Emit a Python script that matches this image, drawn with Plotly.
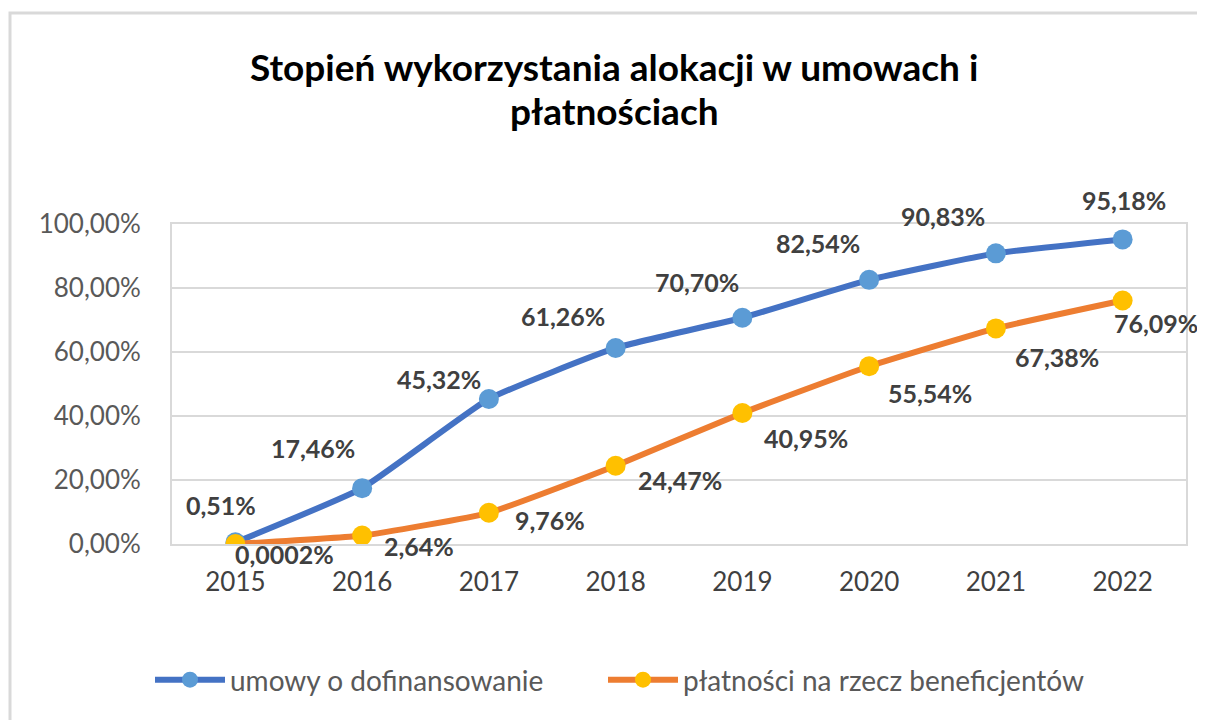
import plotly.graph_objects as go

years = ["2015", "2016", "2017", "2018", "2019", "2020", "2021", "2022"]
umowy = [0.51, 17.46, 45.32, 61.26, 70.70, 82.54, 90.83, 95.18]
platnosci = [0.0002, 2.64, 9.76, 24.47, 40.95, 55.54, 67.38, 76.09]
name_umowy = "umowy o dofinansowanie"
name_platnosci = "płatności na rzecz beneficjentów"
title_lines = ["Stopień wykorzystania alokacji w umowach i", "płatnościach"]
y_ticks = [0, 20, 40, 60, 80, 100]

# label pixel offsets (dx, dy up) relative to each point (styling)
off_umowy = [(-14, 37), (-49, 40), (-50, 20), (-53, 32), (-45, 36), (-51, 37), (-53, 37), (1, 39)]
off_plat = [(49, -10), (57, -10), (61, -7), (64, -14), (64, -25), (61, -27), (61, -29), (33, -22)]

def fmt(v):
    s = ("%g" % v) if v < 0.01 else ("%.2f" % v)
    return s.replace(".", ",") + "%"

FONT = "Lato"
O = 8  # page body margin
FW, FH = 1205 - O, 720 - O
fig = go.Figure()
fig.add_trace(go.Scatter(
    x=years, y=umowy, name=name_umowy, mode="lines+markers", legend="legend",
    line=dict(color="#4472C4", width=6, shape="spline", smoothing=0.4),
    marker=dict(color="#5B9BD5", size=20, line=dict(width=0)),
))
fig.add_trace(go.Scatter(
    x=years, y=platnosci, name=name_platnosci, mode="lines+markers", legend="legend2",
    line=dict(color="#ED7D31", width=6, shape="spline", smoothing=0.4),
    marker=dict(color="#FFC000", size=20, line=dict(width=0)),
))

annotations = []
for vals, offs in ((umowy, off_umowy), (platnosci, off_plat)):
    for i, (v, (dx, dy)) in enumerate(zip(vals, offs)):
        annotations.append(dict(
            x=i, y=v, xref="x", yref="y", text="<b>" + fmt(v) + "</b>", showarrow=False,
            xshift=dx, yshift=dy, xanchor="center", yanchor="middle",
            font=dict(family=FONT, size=25, color="#404040"),
        ))

# plot area in page pixels
L, T, R, B = 172, 224, 1186, 544
W, H = R - L, B - T
def px(x):
    return (x - L) / W
def py(y):
    return (B - y) / H

for line, yc in zip(title_lines, (67, 110)):
    annotations.append(dict(
        x=px(614), y=py(yc), xref="paper", yref="paper", text="<b>" + line + "</b>",
        showarrow=False, xanchor="center", yanchor="middle",
        font=dict(family=FONT, size=37, color="#000000"),
    ))

shapes = [dict(type="rect", xref="paper", yref="paper",
               x0=px(10), x1=px(1215), y0=py(730), y1=py(13),
               line=dict(color="#D9D9D9", width=3), fillcolor="rgba(0,0,0,0)", layer="below")]

legend_style = dict(orientation="h", yanchor="middle", xanchor="left",
                    font=dict(family=FONT, size=28, color="#595959"),
                    itemwidth=70, bgcolor="rgba(0,0,0,0)")

fig.update_layout(
    width=FW, height=FH,
    margin=dict(l=L - O, r=FW - (R - O), t=T - O, b=FH - (B - O), pad=0),
    paper_bgcolor="white", plot_bgcolor="white",
    xaxis=dict(type="category", range=[-0.5, 7.5], showgrid=False,
               showline=True, linecolor="#D9D9D9", linewidth=2, mirror=True,
               ticks="", ticklabelstandoff=14,
               tickfont=dict(family=FONT, size=26, color="#404040")),
    yaxis=dict(range=[0, 100], tickvals=y_ticks,
               ticktext=[("%.2f" % t).replace(".", ",") + "%" for t in y_ticks],
               showgrid=True, gridcolor="#D9D9D9", gridwidth=2,
               showline=True, linecolor="#D9D9D9", linewidth=2, mirror=True,
               zeroline=False, ticks="", ticklabelstandoff=24,
               tickfont=dict(family=FONT, size=26, color="#595959")),
    showlegend=True,
    legend=dict(x=px(150), y=py(680), **legend_style),
    legend2=dict(x=px(603), y=py(680), **legend_style),
    annotations=annotations, shapes=shapes,
)
fig.write_html("out.html")
